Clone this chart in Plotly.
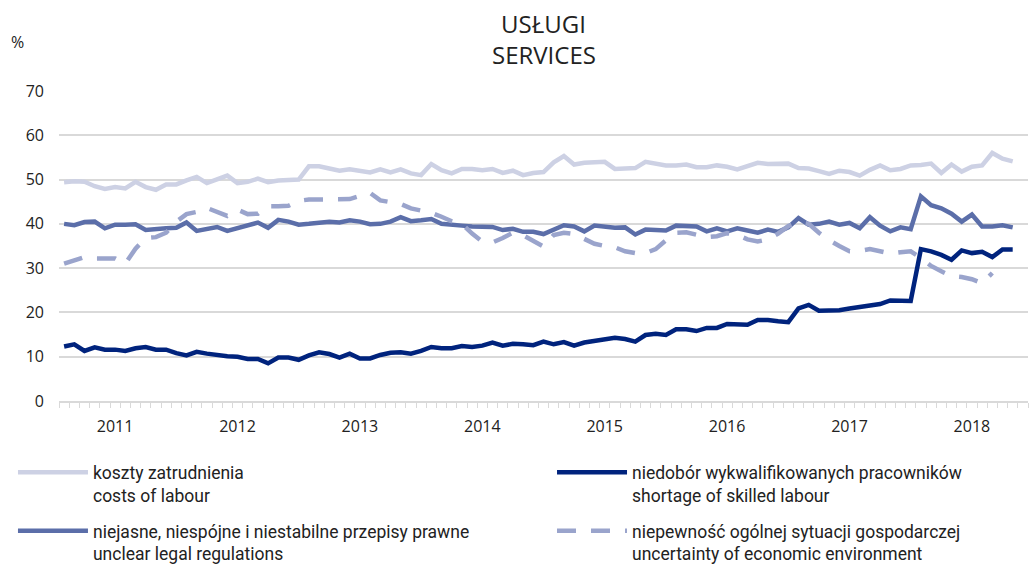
import plotly.graph_objects as go

# ---- data (monthly, Jan 2011 onwards) ----
years = ['2011', '2012', '2013', '2014', '2015', '2016', '2017', '2018']
months = [f"{y}-{m:02d}" for y in range(2011, 2019) for m in range(1, 13)][:94]

costs_of_labour = [
    49.4, 49.6, 49.5, 48.5, 47.9, 48.3, 48.0, 49.5, 48.3, 47.7, 48.9, 48.9,
    49.8, 50.6, 49.2, 50.0, 50.9, 49.2, 49.5, 50.2, 49.4, 49.8, 49.8, 50.0,
    53.0, 53.0, 52.5, 52.0, 52.3, 51.9, 51.6, 52.3, 51.6, 52.3, 51.4, 51.0,
    53.5, 52.1, 51.4, 52.4, 52.4, 52.1, 52.4, 51.5, 52.0, 51.0, 51.5, 51.7,
    53.9, 55.3, 53.4, 53.8, 54.0, 54.0, 52.4, 52.5, 52.6, 54.0, 53.6, 53.2,
    53.2, 53.4, 52.8, 52.8, 53.2, 52.9, 52.3, 53.0, 53.8, 53.5, 53.5, 53.6,
    52.6, 52.5, 51.9, 51.3, 52.0, 51.7, 50.9, 52.2, 53.2, 52.1, 52.4, 53.2,
    53.3, 53.6, 51.5, 53.4, 51.8, 52.9, 53.2, 56.0, 54.7, 54.1,
]

skilled_labour = [
    12.3, 12.8, 11.3, 12.1, 11.6, 11.6, 11.3, 11.9, 12.2, 11.6, 11.6, 10.8,
    10.3, 11.1, 10.7, 10.3, 10.1, 10.0, 9.5, 9.5, 8.5, 9.8, 9.8, 9.3,
    10.3, 11.0, 10.6, 9.8, 10.7, 9.6, 9.6, 10.4, 10.9, 11.0, 10.7, 11.3,
    12.2, 11.9, 11.9, 12.4, 12.2, 12.5, 13.2, 12.5, 12.9, 12.8, 12.6, 13.4,
    12.8, 13.3, 12.5, 13.2, 13.5, 14.0, 14.3, 14.0, 13.4, 14.9, 15.2, 14.9,
    16.2, 16.2, 15.8, 16.5, 16.5, 17.4, 17.3, 17.2, 18.3, 18.3, 18.0, 17.8,
    20.9, 21.7, 20.4, 20.5, 20.5, 20.9, 21.3, 21.7, 21.9, 22.7, 22.6, 22.6,
    34.3, 33.8, 33.0, 31.9, 34.0, 33.4, 33.7, 32.5, 34.2, 34.2,
]

legal_regulations = [
    40.0, 39.7, 40.4, 40.5, 39.0, 39.8, 39.8, 39.9, 38.6, 38.9, 39.0, 39.1,
    40.3, 38.4, 38.9, 39.3, 38.4, 39.1, 39.7, 40.3, 39.1, 40.9, 40.5, 39.8,
    40.0, 40.3, 40.5, 40.3, 40.8, 40.5, 39.9, 40.0, 40.5, 41.5, 40.6, 40.8,
    41.1, 40.0, 39.7, 39.6, 39.4, 39.3, 39.3, 38.6, 38.9, 38.2, 38.2, 37.7,
    38.7, 39.7, 39.4, 38.3, 39.6, 39.3, 39.1, 39.2, 37.6, 38.7, 38.6, 38.5,
    39.6, 39.4, 39.4, 38.3, 39.0, 38.3, 39.0, 38.5, 38.0, 38.7, 38.2, 39.2,
    41.3, 39.8, 40.0, 40.5, 39.8, 40.2, 39.0, 41.5, 39.6, 38.3, 39.2, 38.8,
    46.2, 44.2, 43.5, 42.3, 40.5, 42.1, 39.4, 39.4, 39.7, 39.2,
]

economic_uncertainty = [
    31.0, 31.8, 32.5, 32.2, 32.3, 32.2, 31.0, 34.4, 36.8, 37.0, 38.0, 40.5,
    42.2, 42.7, 43.6, 42.6, 41.8, 43.2, 42.2, 42.3, 44.0, 44.0, 44.1, 45.2,
    45.5, 45.5, 45.5, 45.4, 45.6, 46.3, 47.0, 45.3, 44.9, 44.5, 43.5, 43.0,
    42.5, 41.6, 40.6, 40.0, 37.8, 36.0, 35.8, 36.8, 38.0, 37.4, 36.2, 34.9,
    37.5, 38.0, 37.7, 36.6, 35.5, 35.0, 34.7, 33.8, 33.4, 33.4, 34.3, 36.3,
    38.0, 38.1, 37.6, 37.0, 37.2, 37.9, 37.5, 36.5, 36.0, 36.5, 37.8, 39.5,
    40.5, 40.0, 38.0, 36.3, 35.0, 33.8, 33.9, 34.3, 33.8, 33.3, 33.6, 33.8,
    32.3, 30.5, 29.3, 28.2, 28.0, 27.5, 26.6, 28.9,
]

names = [
    "koszty zatrudnienia<br>costs of labour",
    "niedobór wykwalifikowanych pracowników<br>shortage of skilled labour",
    "niejasne, niespójne i niestabilne przepisy prawne<br>unclear legal regulations",
    "niepewność ogólnej sytuacji gospodarczej<br>uncertainty of economic environment",
]
title_lines = ["USŁUGI", "SERVICES"]

colors = ["#cdd1e4", "#00237d", "#5b6ea9", "#9aa4cc"]

series = [costs_of_labour, skilled_labour, legal_regulations, economic_uncertainty]
legends = ["legend", "legend2", "legend", "legend2"]
dashes = ["solid", "solid", "solid", "19px,15px"]

fig = go.Figure()
for i, (vals, name, col, lg, ds) in enumerate(zip(series, names, colors, legends, dashes)):
    fig.add_trace(go.Scatter(
        x=list(range(len(vals))), y=vals, name=name, mode="lines",
        line=dict(color=col, width=4.5, dash=ds),
        legend=lg, legendgroup=f"g{i}", hoverinfo="skip",
    ))

tickvals = [months.index(f"{y}-06") for y in years]

font_main = "Open Sans, Noto Sans, sans-serif"
legend_common = dict(
    orientation="v", xanchor="left", yanchor="top", y=-0.172,
    font=dict(family="Roboto, Noto Sans, sans-serif", size=17.5, color="#222"),
    itemwidth=70, tracegroupgap=10, valign="top", bgcolor="rgba(0,0,0,0)",
    itemclick=False, itemdoubleclick=False,
)

annotations = [dict(text="%", x=-0.0433, y=1.158, xref="paper", yref="paper",
                    showarrow=False, xanchor="center", yanchor="middle",
                    font=dict(family=font_main, size=16, color="#222"))]
for txt, yy in zip(title_lines, [1.218, 1.1165]):
    annotations.append(dict(text=txt, x=0.5, y=yy, xref="paper", yref="paper",
                            showarrow=False, xanchor="center", yanchor="middle",
                            font=dict(family=font_main, size=24, color="#222")))

fig.update_layout(
    width=1031, height=567, autosize=False,
    margin=dict(l=59, r=3, t=91, b=166, autoexpand=False),
    paper_bgcolor="white", plot_bgcolor="white",
    font=dict(family=font_main, size=16, color="#222"),
    xaxis=dict(
        range=[-0.5, len(months) + 0.5], tickmode="array", tickvals=tickvals, ticktext=years,
        ticks="", showline=True, linecolor="#d9d9d9", linewidth=1.5,
        showgrid=False, zeroline=False, ticklabelstandoff=10,
        tickfont=dict(family=font_main, size=16, color="#222"),
        minor=dict(ticks="outside", ticklen=5, tickwidth=1, tickcolor="#d9d9d9",
                   tick0=-0.5, dtick=1, showgrid=False),
    ),
    yaxis=dict(
        range=[0, 70], dtick=10, showgrid=True, gridcolor="#d9d9d9", gridwidth=1.5,
        zeroline=False, showline=False, ticks="", ticklabelstandoff=14,
        tickfont=dict(family=font_main, size=16, color="#222"),
    ),
    legend=dict(x=-0.0475, **legend_common),
    legend2=dict(x=0.5088, **legend_common),
    annotations=annotations,
)

fig.write_html("out.html", config={"displayModeBar": False},
               post_script="document.body.style.margin='0px';")
